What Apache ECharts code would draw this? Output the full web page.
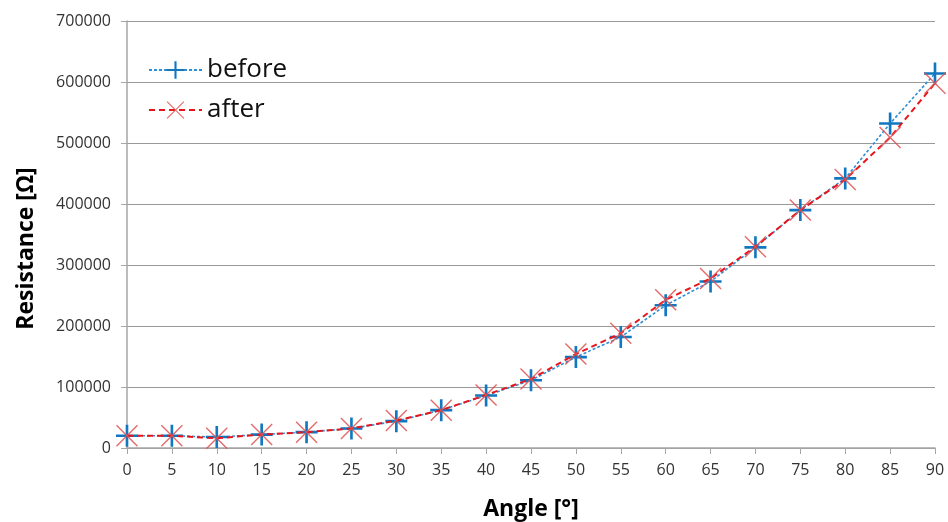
<!DOCTYPE html>
<html><head><meta charset="utf-8">
<script src="https://cdn.jsdelivr.net/npm/echarts@6/dist/echarts.min.js"></script>
<style>html,body{margin:0;padding:0;background:#fff}#c{width:948px;height:522px}</style>
</head><body><div id="c"></div>
<script>
var angles = [0,5,10,15,20,25,30,35,40,45,50,55,60,65,70,75,80,85,90];
var before = [20000,20000,18000,22000,26000,32000,44000,62000,86000,111000,149000,182000,234000,273000,329000,390000,442000,532000,614000];
var after  = [20000,20000,16000,22000,26000,32000,45000,62000,87000,113000,154000,188000,243000,278000,330000,390000,440000,509000,598000];
var yTicks = [0,100000,200000,300000,400000,500000,600000,700000];

var plusPath = 'path://M8.8,0h2.4v20h-2.4z M0,8.8h20v2.4h-20z';
var crossPath = 'path://M0.9,0L20,19.1L19.1,20L0,0.9Z M19.1,0L20,0.9L0.9,20L0,19.1Z';

function pairs(ys){ return angles.map(function(a,i){ return [a, ys[i]]; }); }

var chart = echarts.init(document.getElementById('c'));
chart.setOption({
  animation:false,
  grid:{left:127,right:13,top:21,bottom:74,containLabel:false,outerBoundsMode:'none'},
  legend:{
    left:143, top:52, orient:'vertical', itemGap:14,
    itemWidth:53, itemHeight:22,
    textStyle:{fontFamily:'Open Sans',fontSize:26,color:'#111'},
    data:['before','after']
  },
  xAxis:{
    type:'value', min:0, max:90, interval:5,
    name:'Angle [°]', nameLocation:'middle', nameGap:50,
    nameTextStyle:{fontFamily:'Open Sans',fontWeight:'bold',fontSize:23,color:'#000'},
    axisLine:{lineStyle:{color:'#a6a6a6',width:1.5}},
    axisTick:{show:true,length:6,lineStyle:{color:'#a6a6a6'}},
    axisLabel:{fontFamily:'Open Sans',fontSize:16,color:'#333',margin:14},
    splitLine:{show:false}
  },
  yAxis:{
    type:'value', min:0, max:700000, interval:100000,
    name:'Resistance [Ω]', nameLocation:'middle', nameGap:89, nameRotate:90,
    nameTextStyle:{fontFamily:'Open Sans',fontWeight:'bold',fontSize:23,color:'#000',padding:[0,28,0,0]},
    axisLine:{show:true,lineStyle:{color:'#a6a6a6',width:1.5}},
    axisTick:{show:true,length:6,lineStyle:{color:'#a6a6a6'}},
    axisLabel:{fontFamily:'Open Sans',fontSize:16,color:'#333',margin:16,
      formatter:function(v){ return yTicks.indexOf(v)>=0 ? String(v) : ''; }},
    splitLine:{show:true,lineStyle:{color:'#999',width:1}}
  },
  series:[
    {name:'before',type:'line',data:pairs(before),
     symbol:plusPath,symbolSize:22,showAllSymbol:true,
     lineStyle:{color:'#2f8fd6',width:1.6,type:[3,2]},
     itemStyle:{color:'#1177c0'},z:3},
    {name:'after',type:'line',data:pairs(after),
     symbol:crossPath,symbolSize:22,showAllSymbol:true,
     lineStyle:{color:'#e8141c',width:2,type:[6,4]},
     itemStyle:{color:'rgba(225,80,80,0.85)'},z:4}
  ]
});
</script></body></html>
